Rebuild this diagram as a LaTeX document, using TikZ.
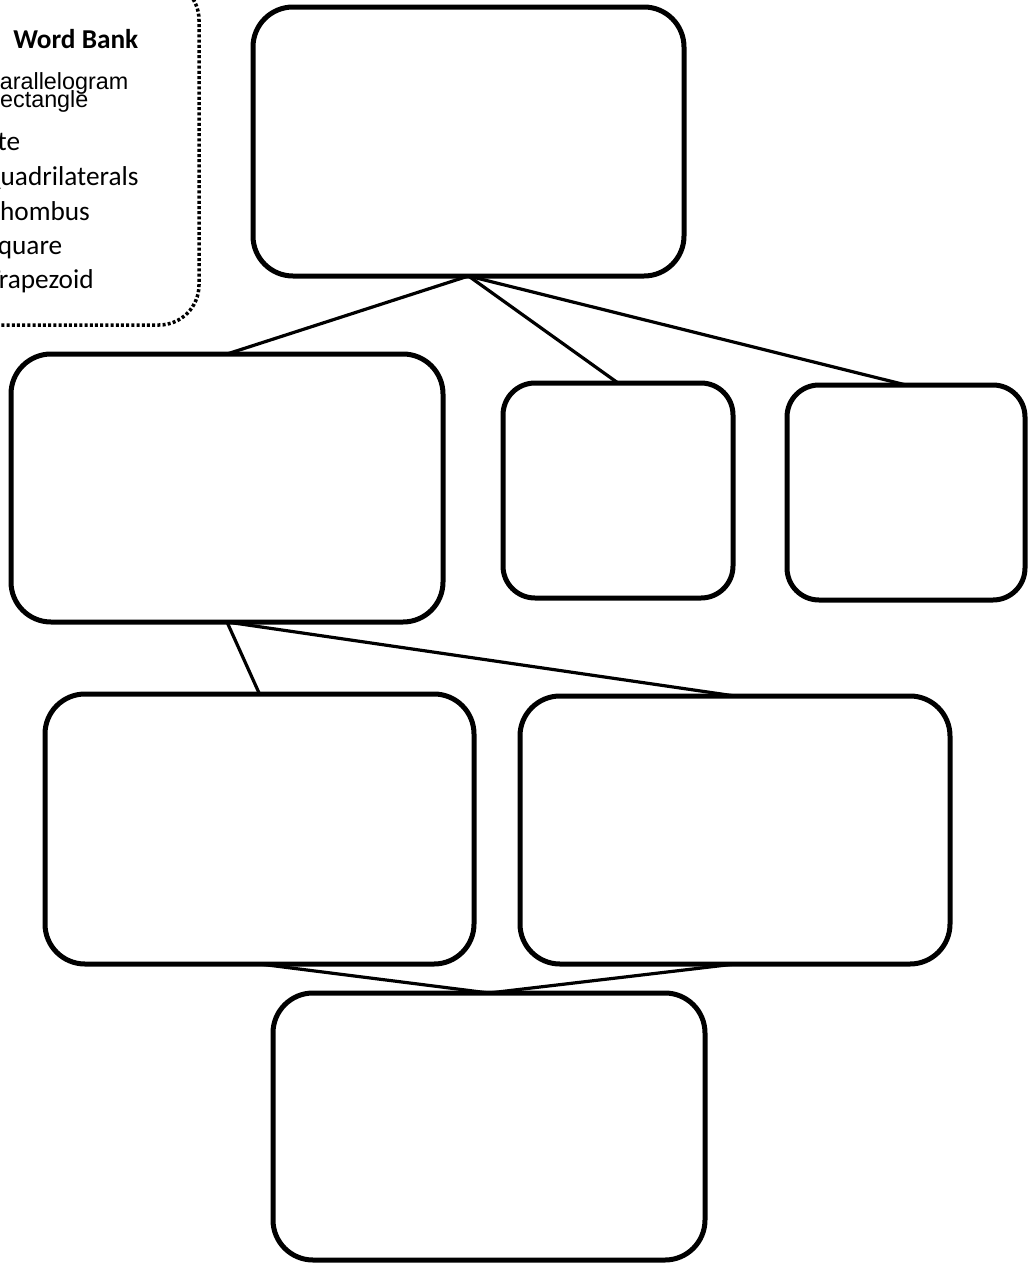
\documentclass[tikz,border=0pt]{standalone}
\usepackage{fontspec}
\setmainfont{Carlito}
\newfontfamily\arialfont{Liberation Sans}
\newlength{\unitpx}
\setlength{\unitpx}{0.025cm}

\begin{document}
\begin{tikzpicture}[
    x=0.025cm, y=-0.025cm,
    box/.style={rectangle, draw=black, rounded corners=40\unitpx, line width=5\unitpx, inner sep=0pt, outer sep=0pt},
    smallbox/.style={box, rounded corners=32\unitpx},
    link/.style={black, line width=3.2\unitpx},
    bankword/.style={anchor=base west, inner sep=0pt, font=\fontsize{19.4}{23}\selectfont},
    bankwordb/.style={anchor=base west, inner sep=0pt, font=\arialfont\fontsize{16.6}{20}\selectfont}
]
    \useasboundingbox (0,0) rectangle (1029,1264);
    \clip (0,0) rectangle (1029,1264);

    % Word bank (cut at the page edge)
    \draw[line width=3.5\unitpx, dash pattern=on 3\unitpx off 2.2\unitpx, rounded corners=40\unitpx]
        (-80,-20) rectangle (199,325);
    \node[bankword, font=\bfseries\fontsize{19.4}{23}\selectfont] (bankhead) at (13,48) {Word Bank};
    \node[bankwordb] (wpar) at (-16,89) {Parallelogram};
    \node[bankwordb] (wrec) at (-17,107) {Rectangle};
    \node[bankword] (wkit) at (-23,150) {Kite};
    \node[bankword] (wqua) at (-18,185) {Quadrilaterals};
    \node[bankword] (wrho) at (-15,220) {Rhombus};
    \node[bankword] (wsqu) at (-15,254) {Square};
    \node[bankword] (wtra) at (-13,288) {Trapezoid};

    % Boxes
    \node[box, minimum width=431\unitpx, minimum height=269\unitpx] (top) at (468.5,141.5) {};
    \node[box, minimum width=432\unitpx, minimum height=268\unitpx] (midleft) at (227,488) {};
    \node[smallbox, minimum width=230\unitpx, minimum height=215\unitpx] (midcentre) at (618,490.5) {};
    \node[smallbox, minimum width=238\unitpx, minimum height=215\unitpx] (midright) at (906,492.5) {};
    \node[box, minimum width=429\unitpx, minimum height=270\unitpx] (lowleft) at (259.5,829) {};
    \node[box, minimum width=430\unitpx, minimum height=268\unitpx] (lowright) at (735,830) {};
    \node[box, minimum width=432\unitpx, minimum height=267\unitpx] (bottom) at (489,1126.5) {};

    % Links
    \draw[link] (top.south) -- (midleft.north);
    \draw[link] (top.south) -- (midcentre.north);
    \draw[link] (top.south) -- (midright.north);
    \draw[link] (midleft.south) -- (lowleft.north);
    \draw[link] (midleft.south) -- (lowright.north);
    \draw[link] (lowleft.south) -- (bottom.north);
    \draw[link] (lowright.south) -- (bottom.north);
\end{tikzpicture}
\end{document}
